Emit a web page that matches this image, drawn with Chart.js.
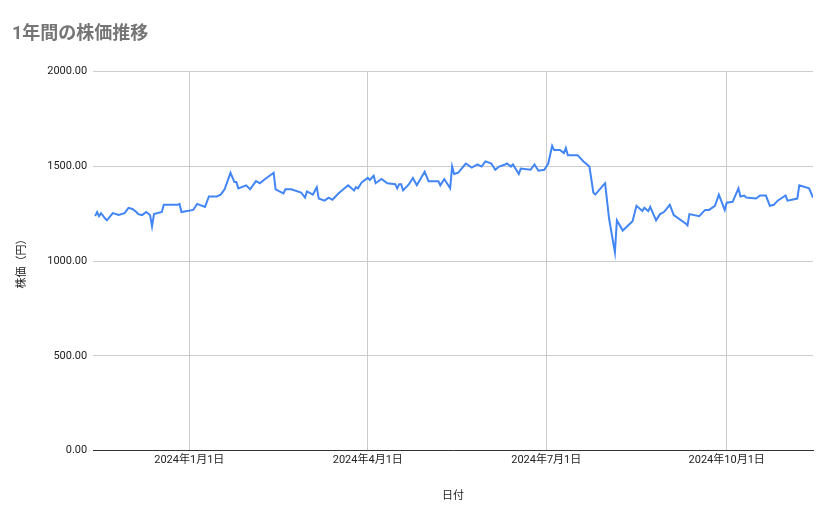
<!DOCTYPE html>
<html>
<head>
<meta charset="utf-8">
<script src="https://cdn.jsdelivr.net/npm/chart.js@4"></script>
<style>
  body { margin: 0; background: #fff; }
</style>
</head>
<body>
<canvas id="myChart" width="839" height="519"></canvas>
<script>
// days from 2024-01-01, and price
const days = [-48,-47,-46,-45,-43,-42,-39,-36,-33,-31,-29,-27,-26,-24,-22,-20,-19,-18,-14,-13,-10,-6,-5,-4,2,4,8,10,14,16,18,21,23,24,25,29,31,34,36,38,43,44,48,49,52,57,59,60,63,65,66,69,71,73,76,81,84,85,86,88,91,92,94,95,98,101,105,106,107,108,109,112,114,116,120,122,127,128,130,133,134,135,137,141,144,147,149,151,154,156,158,161,162,164,165,168,169,174,176,178,181,183,185,186,189,191,192,193,198,201,204,206,207,211,212,214,217,218,221,226,228,231,232,234,235,238,240,242,245,247,253,254,255,260,263,265,268,270,273,274,277,280,281,283,284,289,291,294,296,298,300,304,305,310,311,316,318];
const prices = [1237,1259,1237,1253,1226,1215,1253,1243,1253,1281,1275,1259,1248,1243,1259,1243,1183,1248,1259,1297,1297,1297,1302,1259,1270,1302,1286,1341,1341,1351,1379,1466,1417,1417,1384,1400,1379,1422,1411,1428,1466,1379,1357,1379,1379,1362,1335,1368,1351,1390,1330,1319,1335,1324,1357,1400,1373,1390,1384,1417,1439,1428,1450,1411,1433,1411,1406,1384,1406,1406,1373,1406,1439,1400,1471,1422,1422,1400,1433,1384,1499,1460,1466,1515,1493,1510,1499,1526,1515,1482,1499,1510,1515,1499,1510,1460,1488,1482,1510,1477,1482,1515,1608,1586,1586,1570,1597,1559,1559,1526,1499,1362,1351,1400,1411,1226,1046,1215,1161,1210,1292,1264,1281,1264,1286,1215,1248,1259,1297,1243,1199,1188,1248,1237,1270,1270,1292,1351,1270,1308,1313,1384,1341,1346,1335,1330,1346,1346,1292,1297,1319,1346,1319,1330,1400,1384,1335];
const tickDays = [0, 91, 182, 274];
const tickLabels = ['2024年1月1日', '2024年4月1日', '2024年7月1日', '2024年10月1日'];
const yTicks = [0, 500, 1000, 1500, 2000];

const points = days.map((d, i) => ({ x: d, y: prices[i] }));
const font = "Roboto, 'Noto Sans CJK JP', sans-serif";

new Chart(document.getElementById('myChart'), {
  type: 'line',
  data: {
    datasets: [{
      data: points,
      borderColor: '#4285f4',
      borderWidth: 2,
      pointRadius: 0,
      tension: 0
    }]
  },
  options: {
    responsive: false,
    animation: false,
    layout: { padding: { left: 12, right: 26, top: 6, bottom: 12 } },
    plugins: {
      legend: { display: false },
      tooltip: { enabled: false },
      title: {
        display: true,
        text: '1年間の株価推移',
        align: 'start',
        color: '#757575',
        font: { family: font, size: 18 },
        padding: { top: 18, bottom: 26 }
      }
    },
    scales: {
      x: {
        type: 'linear',
        min: -49,
        max: 318,
        afterBuildTicks: axis => { axis.ticks = tickDays.map(v => ({ value: v })); },
        ticks: {
          color: '#222',
          font: { family: font, size: 11 },
          maxRotation: 0,
          callback: v => tickLabels[tickDays.indexOf(v)]
        },
        grid: { color: '#cccccc', drawTicks: false },
        border: { color: '#333' },
        title: { display: true, text: '日付', color: '#222', font: { family: font, size: 11 }, padding: { top: 20 } }
      },
      y: {
        min: 0,
        max: 2000,
        afterBuildTicks: axis => { axis.ticks = yTicks.map(v => ({ value: v })); },
        ticks: {
          color: '#222',
          font: { family: font, size: 11 },
          padding: 6,
          callback: v => v.toFixed(2)
        },
        grid: { color: '#cccccc', drawTicks: false },
        border: { display: false },
        title: { display: true, text: '株価（円）', color: '#222', font: { family: font, size: 11 }, padding: { bottom: 12 } }
      }
    }
  }
});
</script>
</body>
</html>
